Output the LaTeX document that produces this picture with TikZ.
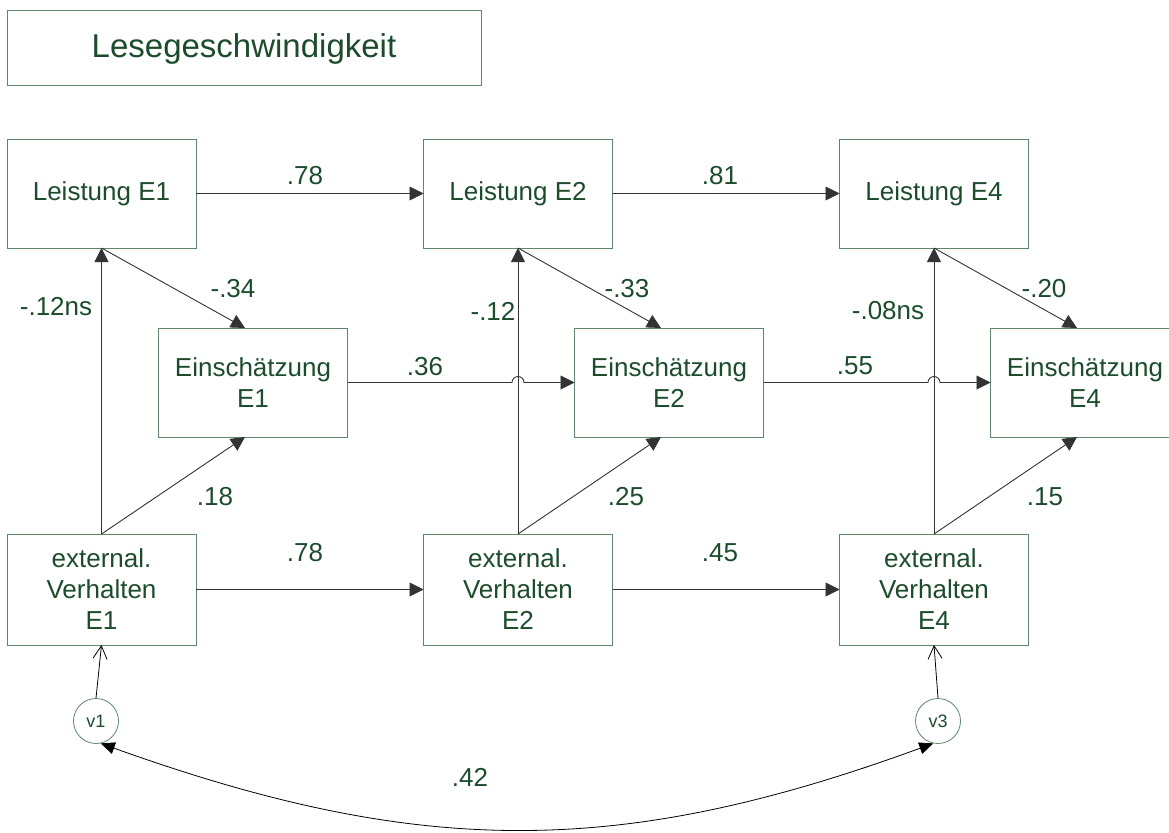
\documentclass[tikz,border=0pt]{standalone}
\usepackage{fontspec}
\setmainfont{Liberation Sans}
\usetikzlibrary{arrows.meta,positioning,calc}
\definecolor{txtgreen}{RGB}{28,76,44}
\definecolor{boxline}{RGB}{95,135,105}

\begin{document}
\begin{tikzpicture}[
    x=1pt, y=-1pt,
    box/.style={rectangle, draw=boxline, line width=1pt, minimum width=189pt, minimum height=109pt, align=center, text=txtgreen, font=\fontsize{26}{31}\selectfont, inner sep=0pt, outer sep=0pt},
    latent/.style={circle, draw=boxline, line width=0.8pt, minimum size=45pt, inner sep=0pt, text=txtgreen, font=\fontsize{18}{20}\selectfont},
    coef/.style={text=txtgreen, font=\fontsize{26}{30}\selectfont, inner sep=0pt},
    arrow/.style={-{Triangle[length=14pt,width=14pt]}, line width=0.9pt, black!80},
    resid/.style={-{Straight Barb[length=13pt,width=14pt]}, line width=0.8pt},
    cov/.style={{Triangle[length=14pt,width=12pt]}-{Triangle[length=14pt,width=12pt]}, line width=0.8pt}
]
    \useasboundingbox (0,0) rectangle (1169,832);
    \node[box, minimum width=474pt, minimum height=75pt, font=\fontsize{33}{36}\selectfont] (title) at (244,48.5) {Lesegeschwindigkeit};
    % Leistung
    \node[box] (lei1) at (101.5,193.5) {Leistung E1};
    \node[box] (lei2) at (518,193.5) {Leistung E2};
    \node[box] (lei4) at (934,193.5) {Leistung E4};
    % Einschaetzung
    \node[box] (ein1) at (253,382.5) {Einschätzung\\E1};
    \node[box] (ein2) at (669,382.5) {Einschätzung\\E2};
    \node[box] (ein4) at (1085,382.5) {Einschätzung\\E4};
    % externalisierendes Verhalten
    \node[box, minimum height=111pt] (ex1) at (101.5,589.5) {external.\\Verhalten\\E1};
    \node[box, minimum height=111pt] (ex2) at (518,589.5) {external.\\Verhalten\\E2};
    \node[box, minimum height=111pt] (ex4) at (934,589.5) {external.\\Verhalten\\E4};
    % residuals
    \node[latent] (v1) at (96,721) {v1};
    \node[latent] (v3) at (938,721) {v3};

    \draw[arrow] (lei1.east) -- (lei2.west);
    \draw[arrow] (lei2.east) -- (lei4.west);
    \draw[arrow] (ex1.east) -- (ex2.west);
    \draw[arrow] (ex2.east) -- (ex4.west);
    \draw[arrow] (ex1.north) -- (lei1.south);
    \draw[arrow] (ex2.north) -- (lei2.south);
    \draw[arrow] (ex4.north) -- (lei4.south);
    \draw[arrow] (lei1.south) -- ([xshift=-8pt]ein1.north);
    \draw[arrow] (lei2.south) -- ([xshift=-8pt]ein2.north);
    \draw[arrow] (lei4.south) -- ([xshift=-8pt]ein4.north);
    \draw[arrow] (ex1.north) -- ([xshift=-8pt]ein1.south);
    \draw[arrow] (ex2.north) -- ([xshift=-8pt]ein2.south);
    \draw[arrow] (ex4.north) -- ([xshift=-8pt]ein4.south);
    \draw[arrow] (ein1.east) -- ([xshift=-6pt]ein1.east -| ex2.north) arc[start angle=180, end angle=0, radius=6pt] -- (ein2.west);
    \draw[arrow] (ein2.east) -- ([xshift=-6pt]ein2.east -| ex4.north) arc[start angle=180, end angle=0, radius=6pt] -- (ein4.west);
    \draw[resid] (v1.north) -- (ex1.south);
    \draw[resid] (v3.north) -- (ex4.south);
    \draw[cov] (v1.-78) .. controls (420,858) and (620,858) .. (v3.-102);

    \node[coef] (c1) at (305,176) {.78};
    \node[coef] (c2) at (720,176) {.81};
    \node[coef] (c3) at (233,289) {-.34};
    \node[coef] (c4) at (627,289) {-.33};
    \node[coef] (c5) at (1044,289) {-.20};
    \node[coef] (c6) at (56,307) {-.12ns};
    \node[coef] (c7) at (493,311) {-.12};
    \node[coef] (c8) at (888,311) {-.08ns};
    \node[coef] (c9) at (425,367) {.36};
    \node[coef] (c10) at (855,366) {.55};
    \node[coef] (c11) at (215,497) {.18};
    \node[coef] (c12) at (626,497) {.25};
    \node[coef] (c13) at (1045,497) {.15};
    \node[coef] (c14) at (305,553) {.78};
    \node[coef] (c15) at (720,553) {.45};
    \node[coef] (c16) at (470,777) {.42};
\end{tikzpicture}
\end{document}
